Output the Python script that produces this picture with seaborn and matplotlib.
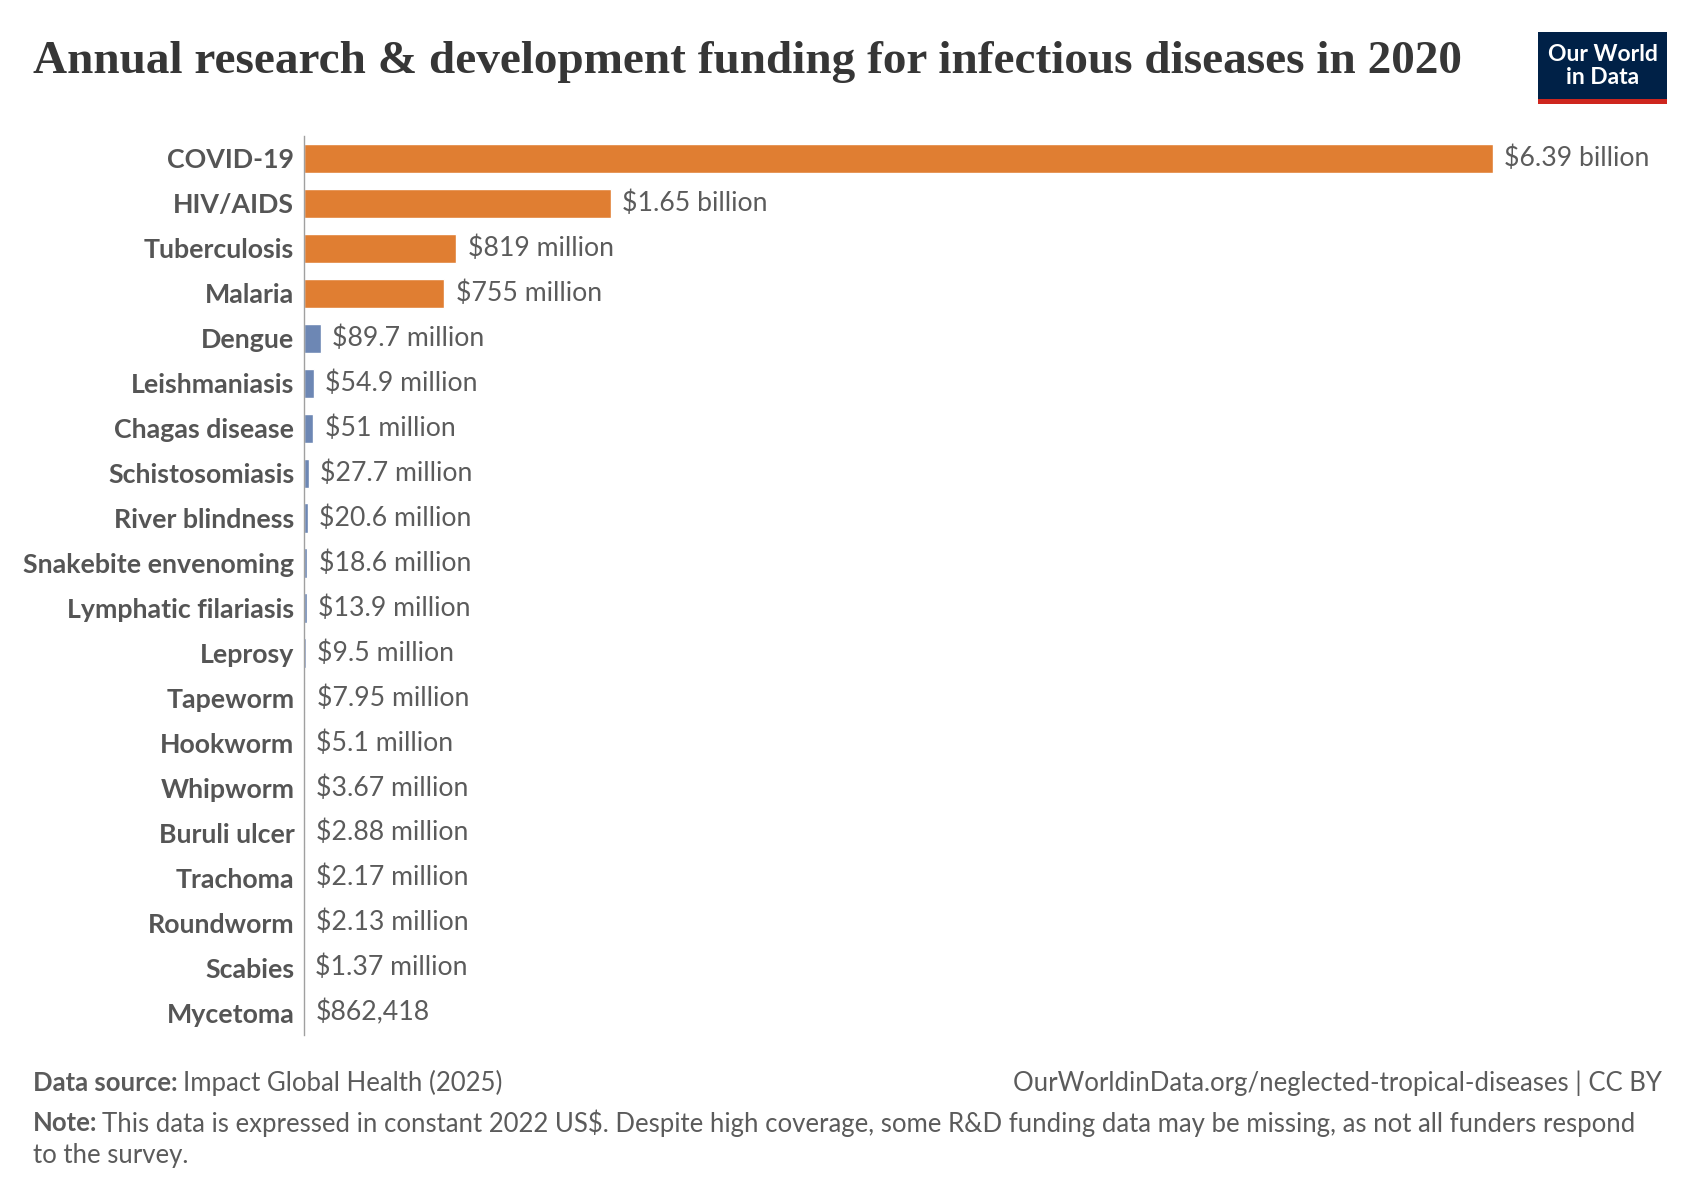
import matplotlib
matplotlib.use('Agg')
import matplotlib.pyplot as plt
import matplotlib.patches as mpatches
import seaborn as sns
import pandas as pd

diseases = ['COVID-19', 'HIV/AIDS', 'Tuberculosis', 'Malaria', 'Dengue',
            'Leishmaniasis', 'Chagas disease', 'Schistosomiasis', 'River blindness',
            'Snakebite envenoming', 'Lymphatic filariasis', 'Leprosy', 'Tapeworm',
            'Hookworm', 'Whipworm', 'Buruli ulcer', 'Trachoma', 'Roundworm',
            'Scabies', 'Mycetoma']
funding = [6.39e9, 1.65e9, 819e6, 755e6, 89.7e6, 54.9e6, 51e6, 27.7e6, 20.6e6,
           18.6e6, 13.9e6, 9.5e6, 7.95e6, 5.1e6, 3.67e6, 2.88e6, 2.17e6, 2.13e6,
           1.37e6, 862418]
value_labels = ['$6.39 billion', '$1.65 billion', '$819 million', '$755 million',
                '$89.7 million', '$54.9 million', '$51 million', '$27.7 million',
                '$20.6 million', '$18.6 million', '$13.9 million', '$9.5 million',
                '$7.95 million', '$5.1 million', '$3.67 million', '$2.88 million',
                '$2.17 million', '$2.13 million', '$1.37 million', '$862,418']
groups = ['big'] * 4 + ['neglected'] * 16

colors = {'big': '#e07e32', 'neglected': '#6d87b4'}
text_grey = '#5b5b5b'


def main():
    sns.set_theme(style='white')
    plt.rcParams['font.family'] = ['Lato', 'DejaVu Sans']

    df = pd.DataFrame({'disease': diseases, 'funding': funding, 'group': groups})

    fig = plt.figure(figsize=(17, 12), dpi=100)
    ax = fig.add_axes([304 / 1700, 1 - 1035 / 1200, 1189 / 1700, 899 / 1200])

    sns.barplot(data=df, x='funding', y='disease', hue='group', palette=colors,
                dodge=False, legend=False, width=0.65, saturation=1, ax=ax)

    for i, (v, lab) in enumerate(zip(funding, value_labels)):
        ax.annotate(lab, xy=(v, i), xytext=(8, 0), textcoords='offset points',
                    va='center', ha='left', fontsize=19.2, color=text_grey)

    ax.set_xlim(0, max(funding))
    ax.set_xlabel('')
    ax.set_ylabel('')
    ax.set_xticks([])
    ax.tick_params(axis='y', length=0, pad=7, labelsize=19.3, labelcolor='#555555')
    for t in ax.get_yticklabels():
        t.set_fontweight('bold')
    for s in ['top', 'right', 'bottom']:
        ax.spines[s].set_visible(False)
    ax.spines['left'].set_color('#a0a0a0')
    ax.spines['left'].set_linewidth(1)

    # title
    fig.text(33 / 1700, 1 - 73 / 1200,
             'Annual research & development funding for infectious diseases in 2020',
             family=['Liberation Serif', 'DejaVu Serif'], fontweight='bold',
             fontsize=34, color='#363636', va='baseline', ha='left')

    # logo
    fig.add_artist(mpatches.Rectangle((1538 / 1700, 1 - 99 / 1200), 129 / 1700, 67 / 1200,
                                      transform=fig.transFigure, color='#002147', lw=0))
    fig.add_artist(mpatches.Rectangle((1538 / 1700, 1 - 104 / 1200), 129 / 1700, 5 / 1200,
                                      transform=fig.transFigure, color='#ce261e', lw=0))
    fig.text(1602.5 / 1700, 1 - 66 / 1200, 'Our World\nin Data', color='white',
             fontsize=16.5, fontweight='bold', ha='center', va='center', linespacing=1.1)

    # footer
    renderer = fig.canvas.get_renderer()
    fsize = 18.5

    def bold_then_regular(x, y, bold, regular):
        t = fig.text(x, y, bold, fontsize=fsize, fontweight='bold', color=text_grey,
                     va='center', ha='left')
        bb = t.get_window_extent(renderer=renderer)
        fig.text(bb.x1 / fig.bbox.width + 5 / 1700, y, regular, fontsize=fsize,
                 color=text_grey, va='center', ha='left')

    bold_then_regular(33 / 1700, 1 - 1083 / 1200, 'Data source:', 'Impact Global Health (2025)')
    fig.text(1662 / 1700, 1 - 1083 / 1200,
             'OurWorldinData.org/neglected-tropical-diseases | CC BY',
             fontsize=fsize, color=text_grey, va='center', ha='right')
    bold_then_regular(33 / 1700, 1 - 1123 / 1200, 'Note:',
                      'This data is expressed in constant 2022 US$. Despite high coverage, '
                      'some R&D funding data may be missing, as not all funders respond')
    fig.text(33 / 1700, 1 - 1155 / 1200, 'to the survey.', fontsize=fsize,
             color=text_grey, va='center', ha='left')

    fig.savefig('out.png', dpi=100)


if __name__ == '__main__':
    main()
